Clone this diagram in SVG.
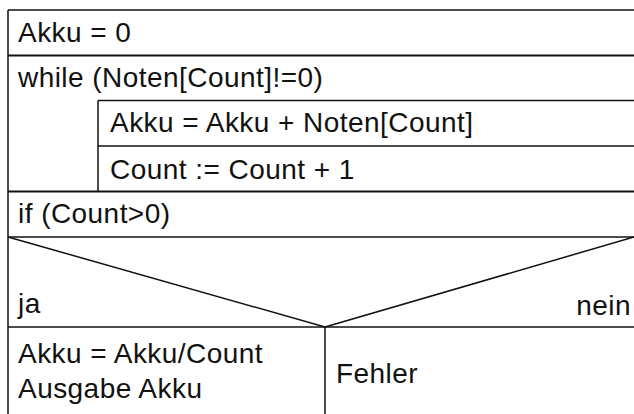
<svg xmlns="http://www.w3.org/2000/svg" width="634" height="414" viewBox="0 0 634 414">
<style>
.t{font-family:"Liberation Sans",Arial,Helvetica,sans-serif;font-size:28px;letter-spacing:0.45px;fill:#111}
.l{stroke:#111;stroke-width:1.5;fill:none}
.b{stroke:#111;stroke-width:2;fill:none}
</style>
<rect width="634" height="414" fill="#fff"/>
<g id="frame">
<line class="l" x1="8" y1="10" x2="634" y2="10"/>
<line class="l" x1="8" y1="10" x2="8" y2="414"/>
</g>
<g id="n-akku0">
<line class="b" x1="8" y1="55.5" x2="634" y2="55.5"/>
<text class="t" x="18" y="42">Akku = 0</text>
</g>
<g id="n-while">
<text class="t" x="18" y="87">while (Noten[Count]!=0)</text>
<line class="l" x1="98" y1="100.5" x2="98" y2="191"/>
</g>
<g id="n-sum">
<line class="l" x1="98" y1="100.5" x2="634" y2="100.5"/>
<text class="t" x="110" y="132">Akku = Akku + Noten[Count]</text>
</g>
<g id="n-count">
<line class="l" x1="98" y1="146" x2="634" y2="146"/>
<text class="t" x="110" y="179">Count := Count + 1</text>
</g>
<g id="n-if">
<line class="b" x1="8" y1="191.5" x2="634" y2="191.5"/>
<text class="t" x="18" y="223">if (Count&gt;0)</text>
<line class="l" x1="8" y1="237" x2="634" y2="237"/>
<text class="t" x="18" y="313">ja</text>
<text class="t" x="631" y="315" text-anchor="end">nein</text>
</g>
<g id="connectors">
<line class="l" x1="8" y1="237" x2="325" y2="327"/>
<line class="l" x1="634" y1="237" x2="325" y2="327"/>
<line class="l" x1="8" y1="327" x2="634" y2="327"/>
<line class="l" x1="325" y1="327" x2="325" y2="414"/>
</g>
<g id="n-ja">
<text class="t" x="18" y="363">Akku = Akku/Count</text>
<text class="t" x="18" y="398">Ausgabe Akku</text>
</g>
<g id="n-nein">
<text class="t" x="336" y="383">Fehler</text>
</g>
</svg>
